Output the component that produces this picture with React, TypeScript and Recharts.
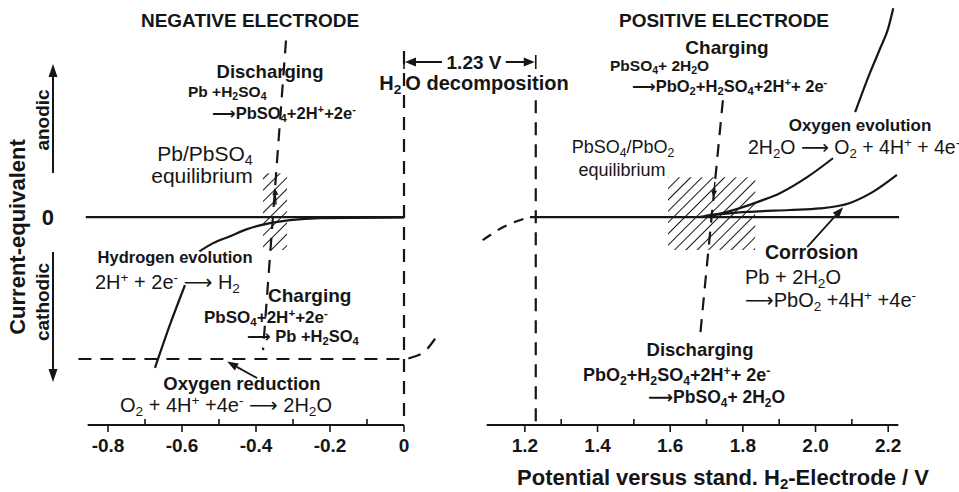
import React from "react";
import { ComposedChart, Line, XAxis, YAxis, ReferenceArea, ReferenceLine } from "recharts";

// potentials in V vs. SHE, currents in schematic units (0 = no net current)
const negMajorTicks = [-0.8, -0.6, -0.4, -0.2, 0];
const negMinorTicks = [-0.7, -0.5, -0.3, -0.1];
const posMajorTicks = [1.2, 1.4, 1.6, 1.8, 2.0, 2.2];
const posMinorTicks = [1.3, 1.5, 1.7, 1.9, 2.1];

// negative electrode
const zeroNegV = [-0.86, 0];
const zeroNegI = [0, 0];
const h2LowV = [-0.673, -0.632, -0.592];
const h2LowI = [-1.45, -1.03, -0.654];
const h2HighV = [-0.553, -0.516, -0.47, -0.424, -0.362, -0.308, -0.227, 0];
const h2HighI = [-0.33, -0.25, -0.183, -0.115, -0.058, -0.029, -0.01, -0.003];
const o2RedV = [-0.88, 0, 0.024, 0.054, 0.084];
const o2RedI = [-1.365, -1.365, -1.346, -1.298, -1.17];
const pbEqV = [-0.319, -0.381];
const pbEqI = [1.7, -1.28];
const negLimitV = [0, 0];
const negLimitI = [1.6, -2];
const negHatchV = [-0.381, -0.316];
const negHatchI = [-0.317, 0.423];
const o2RedArrowV = [-0.397, -0.478];
const o2RedArrowI = [-1.548, -1.39];
const pbDirV = [-0.346, -0.349];
const pbDirI = [0.12, 0.28];

// positive electrode
const zeroPosV = [1.214, 2.23];
const zeroPosI = [0, 0];
const tailPosV = [1.084, 1.145, 1.208];
const tailPosI = [-0.221, -0.087, -0.005];
const posLimitV = [1.23, 1.23];
const posLimitI = [1.125, -2];
const pbo2EqV = [1.745, 1.682];
const pbo2EqI = [1.125, -1.154];
const o2EvoLowV = [1.682, 1.737, 1.792, 1.847, 1.902, 1.977, 2.048];
const o2EvoLowI = [0.002, 0.034, 0.087, 0.154, 0.231, 0.385, 0.567];
const o2EvoHighV = [2.109, 2.15, 2.178, 2.2, 2.214];
const o2EvoHighI = [1.01, 1.39, 1.625, 1.817, 2.01];
const corrV = [1.695, 1.811, 1.929, 2.012, 2.095, 2.158, 2.224];
const corrI = [0.012, 0.05, 0.069, 0.084, 0.137, 0.243, 0.406];
const posHatchV = [1.594, 1.834];
const posHatchI = [-0.317, 0.385];
const corrArrowV = [1.977, 2.076];
const corrArrowI = [-0.288, 0.095];
const pbo2DirV = [1.723, 1.719];
const pbo2DirI = [0.34, 0.19];

const zip = (xs: number[], ys: number[]) => xs.map((x, i) => ({ x, y: ys[i] }));

const INK = "#161616";
const FONT = "'Liberation Sans', Arial, Helvetica, 'DejaVu Sans', sans-serif";
const AR = "\u27F6";

const I_DOMAIN: [number, number] = [-2, 2.08];
const AXIS_H = 67;
const NEG_DOMAIN: [number, number] = [-0.9, 0.1];
const NEG_LEFT = 71;
const NEG_W = 370;
const NEG_CHART_W = 460;
const POS_DOMAIN: [number, number] = [1.06, 2.26];
const POS_X0 = 460;
const POS_LEFT = 14;
const POS_W = 436;
const POS_CHART_W = 499;

const xNeg = (v: number) => NEG_LEFT + ((v - NEG_DOMAIN[0]) / (NEG_DOMAIN[1] - NEG_DOMAIN[0])) * NEG_W;
const xPos = (v: number) => POS_X0 + POS_LEFT + ((v - POS_DOMAIN[0]) / (POS_DOMAIN[1] - POS_DOMAIN[0])) * POS_W;

function makeTick(majors: number[], fmt: (v: number) => string) {
  return (props: any) => {
    const { x, y, payload } = props;
    const v = payload.value;
    const major = majors.some((m) => Math.abs(m - v) < 1e-6);
    if (!major) return <line x1={x} x2={x} y1={y} y2={y - 6} stroke={INK} strokeWidth={1.6} />;
    return (
      <g>
        <line x1={x} x2={x} y1={y} y2={y + 7} stroke={INK} strokeWidth={1.6} />
        <text x={x} y={y + 27} textAnchor="middle" fontSize={19} fontWeight="bold" fill={INK} fontFamily={FONT}>
          {fmt(v)}
        </text>
      </g>
    );
  };
}

function makeArrow(L: number, w: number, sw: number) {
  return (props: any) => {
    const { x1, y1, x2, y2 } = props;
    const a = Math.atan2(y2 - y1, x2 - x1);
    const bx = x2 - L * Math.cos(a);
    const by = y2 - L * Math.sin(a);
    const px = -Math.sin(a) * w;
    const py = Math.cos(a) * w;
    return (
      <g>
        <line x1={x1} y1={y1} x2={bx} y2={by} stroke={INK} strokeWidth={sw} />
        <polygon points={`${x2},${y2} ${bx + px},${by + py} ${bx - px},${by - py}`} fill={INK} />
      </g>
    );
  };
}
const ArrowShape = makeArrow(11, 4, 1.8);
const DirShape = makeArrow(7, 3, 1.4);

const Sub = ({ c }: { c: string }) => (
  <span style={{ fontSize: "0.68em", position: "relative", top: "0.3em" }}>{c}</span>
);
const Sup = ({ c }: { c: string }) => (
  <span style={{ fontSize: "0.68em", position: "relative", top: "-0.5em" }}>{c}</span>
);

function Txt({ x, y, size = 18, bold = true, align = "center", rotate = false, children }: any) {
  const tx = align === "center" ? "-50%" : "0";
  return (
    <div
      style={{
        position: "absolute",
        left: x,
        top: y,
        transform: `translate(${tx}, -50%)${rotate ? " rotate(-90deg)" : ""}`,
        fontSize: size,
        fontWeight: bold ? 700 : 400,
        whiteSpace: "nowrap",
        lineHeight: 1,
        color: INK,
      }}
    >
      {children}
    </div>
  );
}

const lineProps = { dot: false, activeDot: false, isAnimationActive: false, stroke: INK, strokeWidth: 2.2 } as const;
const DASH = "13 9";

function NegativeChart() {
  return (
    <ComposedChart width={NEG_CHART_W} height={492} margin={{ top: 1, right: NEG_CHART_W - NEG_LEFT - NEG_W, bottom: 0, left: NEG_LEFT - 30 }}>
      <XAxis
        type="number"
        dataKey="x"
        domain={NEG_DOMAIN}
        allowDataOverflow
        ticks={[...negMajorTicks, ...negMinorTicks].sort((a, b) => a - b)}
        interval={0}
        height={AXIS_H}
        tickSize={0}
        tickMargin={0}
        tickLine={false}
        axisLine={false}
        tick={makeTick(negMajorTicks, (v) => (Math.abs(v) < 1e-9 ? "0" : v.toFixed(1)))}
      />
      <YAxis
        type="number"
        domain={I_DOMAIN}
        allowDataOverflow
        ticks={[0]}
        width={30}
        tickSize={0}
        tickMargin={17}
        tickLine={false}
        axisLine={false}
        tick={(p: any) => (
          <text x={p.x} y={p.y} dy="0.36em" textAnchor="end" fontSize={22} fontWeight="bold" fill={INK} fontFamily={FONT}>
            0
          </text>
        )}
      />
      <ReferenceArea x1={negHatchV[0]} x2={negHatchV[1]} y1={negHatchI[0]} y2={negHatchI[1]} fill="url(#hatch)" fillOpacity={1} stroke="none" />
      <ReferenceLine segment={[{ x: -0.855, y: -2 }, { x: 0, y: -2 }]} stroke={INK} strokeWidth={2} />
      <Line data={zip(zeroNegV, zeroNegI)} dataKey="y" type="linear" {...lineProps} />
      <Line data={zip(h2LowV, h2LowI)} dataKey="y" type="monotone" {...lineProps} />
      <Line data={zip(h2HighV, h2HighI)} dataKey="y" type="monotone" {...lineProps} />
      <Line data={zip(o2RedV, o2RedI)} dataKey="y" type="monotone" {...lineProps} strokeDasharray={DASH} />
      <Line data={zip(pbEqV, pbEqI)} dataKey="y" type="linear" {...lineProps} strokeDasharray={DASH} />
      <Line data={zip(negLimitV, negLimitI)} dataKey="y" type="linear" {...lineProps} strokeDasharray={DASH} />
      <ReferenceLine
        segment={[{ x: o2RedArrowV[0], y: o2RedArrowI[0] }, { x: o2RedArrowV[1], y: o2RedArrowI[1] }]}
        shape={ArrowShape}
      />
      <ReferenceLine segment={[{ x: pbDirV[0], y: pbDirI[0] }, { x: pbDirV[1], y: pbDirI[1] }]} shape={DirShape} />
    </ComposedChart>
  );
}

function PositiveChart() {
  return (
    <ComposedChart width={POS_CHART_W} height={492} margin={{ top: 1, right: POS_CHART_W - POS_LEFT - POS_W, bottom: 0, left: POS_LEFT }}>
      <XAxis
        type="number"
        dataKey="x"
        domain={POS_DOMAIN}
        allowDataOverflow
        ticks={[...posMajorTicks, ...posMinorTicks].sort((a, b) => a - b)}
        interval={0}
        height={AXIS_H}
        tickSize={0}
        tickMargin={0}
        tickLine={false}
        axisLine={false}
        tick={makeTick(posMajorTicks, (v) => v.toFixed(1))}
      />
      <YAxis type="number" domain={I_DOMAIN} allowDataOverflow hide width={0} />
      <ReferenceArea x1={posHatchV[0]} x2={posHatchV[1]} y1={posHatchI[0]} y2={posHatchI[1]} fill="url(#hatch)" fillOpacity={1} stroke="none" />
      <ReferenceLine segment={[{ x: 1.095, y: -2 }, { x: 2.228, y: -2 }]} stroke={INK} strokeWidth={2} />
      <Line data={zip(zeroPosV, zeroPosI)} dataKey="y" type="linear" {...lineProps} />
      <Line data={zip(tailPosV, tailPosI)} dataKey="y" type="monotone" {...lineProps} strokeDasharray="10 8" />
      <Line data={zip(posLimitV, posLimitI)} dataKey="y" type="linear" {...lineProps} strokeDasharray={DASH} />
      <Line data={zip(pbo2EqV, pbo2EqI)} dataKey="y" type="linear" {...lineProps} strokeDasharray={DASH} />
      <Line data={zip(o2EvoLowV, o2EvoLowI)} dataKey="y" type="monotone" {...lineProps} />
      <Line data={zip(o2EvoHighV, o2EvoHighI)} dataKey="y" type="monotone" {...lineProps} />
      <Line data={zip(corrV, corrI)} dataKey="y" type="monotone" {...lineProps} />
      <ReferenceLine
        segment={[{ x: corrArrowV[0], y: corrArrowI[0] }, { x: corrArrowV[1], y: corrArrowI[1] }]}
        shape={ArrowShape}
      />
      <ReferenceLine segment={[{ x: pbo2DirV[0], y: pbo2DirI[0] }, { x: pbo2DirV[1], y: pbo2DirI[1] }]} shape={DirShape} />
    </ComposedChart>
  );
}

export default function App() {
  const yDim = 62;
  const xa = xNeg(0);
  const xb = xPos(1.23);
  return (
    <div style={{ position: "absolute", left: 0, top: 0, width: 959, height: 492, background: "#fff", fontFamily: FONT, overflow: "hidden" }}>
      <svg width={0} height={0} style={{ position: "absolute" }}>
        <defs>
          <pattern id="hatch" patternUnits="userSpaceOnUse" width={8} height={8} patternTransform="rotate(45)">
            <line x1={0} y1={0} x2={0} y2={8} stroke={INK} strokeWidth={2} />
          </pattern>
        </defs>
      </svg>
      <div style={{ position: "absolute", left: 0, top: 0 }}>
        <NegativeChart />
      </div>
      <div style={{ position: "absolute", left: POS_X0, top: 0 }}>
        <PositiveChart />
      </div>

      <svg width={959} height={492} style={{ position: "absolute", left: 0, top: 0, pointerEvents: "none" }}>
        {/* anodic / cathodic direction arrows */}
        <line x1={53} y1={173} x2={53} y2={76} stroke={INK} strokeWidth={2} />
        <polygon points="53,64 48.5,77 57.5,77" fill={INK} />
        <line x1={53} y1={252} x2={53} y2={370} stroke={INK} strokeWidth={2} />
        <polygon points="53,382 48.5,369 57.5,369" fill={INK} />
        {/* 1.23 V dimension */}
        <line x1={xa + 10} y1={yDim} x2={xa + 38} y2={yDim} stroke={INK} strokeWidth={2} />
        <polygon points={`${xa + 1},${yDim} ${xa + 12},${yDim - 4.5} ${xa + 12},${yDim + 4.5}`} fill={INK} />
        <line x1={xb - 30} y1={yDim} x2={xb - 10} y2={yDim} stroke={INK} strokeWidth={2} />
        <polygon points={`${xb - 1},${yDim} ${xb - 12},${yDim - 4.5} ${xb - 12},${yDim + 4.5}`} fill={INK} />
        <line x1={xb} y1={yDim - 7} x2={xb} y2={yDim + 7} stroke={INK} strokeWidth={1.6} />
        <line x1={xa} y1={yDim - 7} x2={xa} y2={yDim + 7} stroke={INK} strokeWidth={1.6} />
      </svg>

      <Txt x={250} y={20} size={19}>NEGATIVE ELECTRODE</Txt>
      <Txt x={724} y={20} size={19}>POSITIVE ELECTRODE</Txt>

      <Txt x={18} y={237} size={22} rotate>Current-equivalent</Txt>
      <Txt x={42} y={120} size={19} rotate>anodic</Txt>
      <Txt x={42} y={302} size={19} rotate>cathodic</Txt>

      <Txt x={474} y={yDim} size={19}>1.23 V</Txt>
      <Txt x={474} y={83} size={20}>H<Sub c="2" />&thinsp;O decomposition</Txt>

      <Txt x={270} y={72} size={18.5}>Discharging</Txt>
      <Txt x={188} y={92} size={15.5} align="left">Pb +H<Sub c="2" />SO<Sub c="4" /></Txt>
      <Txt x={212} y={113} size={16.5} align="left">{AR}PbSO<Sub c="4" />+2H<Sup c="+" />+2e<Sup c="-" /></Txt>
      <Txt x={205} y={153} size={21} bold={false}>Pb/PbSO<Sub c="4" /></Txt>
      <Txt x={202} y={175} size={21} bold={false}>equilibrium</Txt>
      <Txt x={175} y={257} size={16.5}>Hydrogen evolution</Txt>
      <Txt x={95} y={282} size={20} bold={false} align="left">2H<Sup c="+" /> + 2e<Sup c="-" /> {AR} H<Sub c="2" /></Txt>
      <Txt x={268} y={295} size={19} align="left">Charging</Txt>
      <Txt x={204} y={317} size={17} align="left">PbSO<Sub c="4" />+2H<Sup c="+" />+2e<Sup c="-" /></Txt>
      <Txt x={247} y={336} size={16.5} align="left">{AR} Pb +H<Sub c="2" />SO<Sub c="4" /></Txt>
      <Txt x={242} y={384} size={18.5}>Oxygen reduction</Txt>
      <Txt x={226} y={405} size={20} bold={false}>O<Sub c="2" /> + 4H<Sup c="+" /> +4e<Sup c="-" /> {AR} 2H<Sub c="2" />O</Txt>

      <Txt x={727} y={47} size={19}>Charging</Txt>
      <Txt x={610} y={66} size={15.5} align="left">PbSO<Sub c="4" />+ 2H<Sub c="2" />O</Txt>
      <Txt x={632} y={86} size={16.5} align="left">{AR}PbO<Sub c="2" />+H<Sub c="2" />SO<Sub c="4" />+2H<Sup c="+" />+ 2e<Sup c="-" /></Txt>
      <Txt x={623} y={147} size={18} bold={false}>PbSO<Sub c="4" />/PbO<Sub c="2" /></Txt>
      <Txt x={622} y={170} size={18} bold={false}>equilibrium</Txt>
      <Txt x={860} y={125} size={17}>Oxygen evolution</Txt>
      <Txt x={748} y={148} size={19.5} bold={false} align="left">2H<Sub c="2" />O {AR} O<Sub c="2" /> + 4H<Sup c="+" /> + 4e<Sup c="-" /></Txt>
      <Txt x={765} y={253} size={19.5} align="left">Corrosion</Txt>
      <Txt x={745} y={277} size={20} bold={false} align="left">Pb + 2H<Sub c="2" />O</Txt>
      <Txt x={745} y={300} size={20} bold={false} align="left">{AR}PbO<Sub c="2" /> +4H<Sup c="+" /> +4e<Sup c="-" /></Txt>
      <Txt x={700} y={350} size={18.5}>Discharging</Txt>
      <Txt x={583} y={375} size={18} align="left">PbO<Sub c="2" />+H<Sub c="2" />SO<Sub c="4" />+2H<Sup c="+" />+ 2e<Sup c="-" /></Txt>
      <Txt x={648} y={398} size={17.5} align="left">{AR}PbSO<Sub c="4" />+ 2H<Sub c="2" />O</Txt>

      <Txt x={723} y={478} size={22}>Potential versus stand. H<Sub c="2" />-Electrode / V</Txt>
    </div>
  );
}
